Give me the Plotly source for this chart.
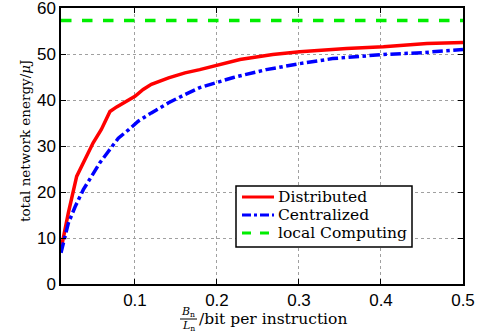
import plotly.graph_objects as go

# Data
dist_x = [0.0098, 0.0187, 0.0289, 0.043, 0.049, 0.059, 0.0695, 0.0777, 0.0899, 0.1, 0.11, 0.12,
          0.141, 0.161, 0.179, 0.212, 0.228, 0.268, 0.301, 0.358, 0.403, 0.456, 0.5]
dist_y = [7.5, 15.4, 23.4, 28.5, 30.7, 33.6, 37.5, 38.5, 39.7, 40.8, 42.3, 43.4,
          44.8, 45.9, 46.6, 48.1, 48.8, 49.9, 50.5, 51.2, 51.6, 52.3, 52.5]

cent_x = [0.0098, 0.0187, 0.027, 0.037, 0.047, 0.057, 0.0675, 0.0797, 0.092, 0.104, 0.12,
          0.141, 0.161, 0.179, 0.22, 0.26, 0.301, 0.341, 0.403, 0.451, 0.5]
cent_y = [6.8, 13.2, 16.8, 20.5, 23.4, 26.3, 28.8, 31.7, 33.5, 35.4, 37.2,
          39.4, 41.2, 42.7, 44.9, 46.6, 47.9, 49.0, 49.9, 50.3, 51.0]

local_x = [0.0098, 0.5]
local_y = [57.3, 57.3]

series_names = ["Distributed", "Centralized", "local Computing"]
series_colors = ["#ff0000", "#0000ff", "#00ee00"]
series_dash = ["solid", "dashdot", "dash"]

x_ticks = [0.1, 0.2, 0.3, 0.4, 0.5]
x_ticktext = ["0.1", "0.2", "0.3", "0.4", "0.5"]
y_ticks = [0, 10, 20, 30, 40, 50, 60]

SERIF = "DejaVu Serif, Liberation Serif, serif"
SANS = "Liberation Sans, Arial, sans-serif"

# plot-area pixel geometry (used only for placing decorations)
L, R, T, B = 61, 463, 8, 284
def px(x):
    return (x - L) / (R - L)
def py(y):
    return (B - y) / (B - T)

fig = go.Figure()
for xs, ys, nm, c, d in [(dist_x, dist_y, series_names[0], series_colors[0], series_dash[0]),
                         (cent_x, cent_y, series_names[1], series_colors[1], series_dash[1]),
                         (local_x, local_y, series_names[2], series_colors[2], series_dash[2])]:
    fig.add_trace(go.Scatter(x=xs, y=ys, mode="lines", name=nm, showlegend=False,
                             line=dict(color=c, width=3.5, dash=d)))

axis_common = dict(
    showline=True, linecolor="black", linewidth=1.5, mirror="ticks",
    ticks="inside", ticklen=5, tickcolor="black",
    showgrid=True, gridcolor="#a0a0a0", griddash="dot", gridwidth=1,
    zeroline=False, automargin=False, ticklabeloverflow="allow",
    tickfont=dict(family=SANS, size=17, color="black"),
)

fig.update_layout(
    width=482, height=335,
    margin=dict(l=L, r=482 - R, t=T, b=335 - B),
    paper_bgcolor="white", plot_bgcolor="white",
    showlegend=False,
    xaxis=dict(range=[0.0098, 0.5], tickvals=x_ticks, ticktext=x_ticktext, **axis_common),
    yaxis=dict(range=[0, 60], tickvals=y_ticks, **axis_common),
)

# y-axis title
fig.add_annotation(xref="paper", yref="paper", x=px(25), y=py(141),
                   xanchor="center", yanchor="middle", showarrow=False, textangle=-90,
                   text="total network energy/<i>μ</i>J",
                   font=dict(family=SERIF, size=13.5, color="black"))

# Manual legend (box, line samples, labels)
fig.add_shape(type="rect", xref="paper", yref="paper",
              x0=px(236), x1=px(412), y0=py(186), y1=py(247),
              line=dict(color="black", width=1.5), fillcolor="white", layer="above")
rows_y = [197, 215, 233]
for yy, nm, c, d in zip(rows_y, series_names, series_colors, series_dash):
    fig.add_shape(type="line", xref="paper", yref="paper",
                  x0=px(242), x1=px(274), y0=py(yy), y1=py(yy),
                  line=dict(color=c, width=3, dash=d), layer="above")
    fig.add_annotation(xref="paper", yref="paper", x=px(276), y=py(yy),
                       xanchor="left", yanchor="middle", showarrow=False,
                       text=nm, font=dict(family=SERIF, size=15.5, color="black"))

# x-axis title built as a stacked fraction B_n / L_n followed by the unit text
fig.add_annotation(xref="paper", yref="paper", x=px(197), y=py(319),
                   xanchor="left", yanchor="middle", showarrow=False,
                   text="/bit per instruction", font=dict(family=SERIF, size=15.5, color="black"))
fig.add_annotation(xref="paper", yref="paper", x=px(188), y=py(312),
                   xanchor="center", yanchor="middle", showarrow=False,
                   text="<i>B</i><sub>n</sub>", font=dict(family=SERIF, size=11, color="black"))
fig.add_annotation(xref="paper", yref="paper", x=px(188), y=py(326),
                   xanchor="center", yanchor="middle", showarrow=False,
                   text="<i>L</i><sub>n</sub>", font=dict(family=SERIF, size=11, color="black"))
fig.add_shape(type="line", xref="paper", yref="paper",
              x0=px(180), x1=px(197), y0=py(319), y1=py(319),
              line=dict(color="black", width=1))

fig.write_html("out.html", config={"displayModeBar": False},
               post_script="document.body.style.margin='0';document.body.style.overflow='hidden';")
